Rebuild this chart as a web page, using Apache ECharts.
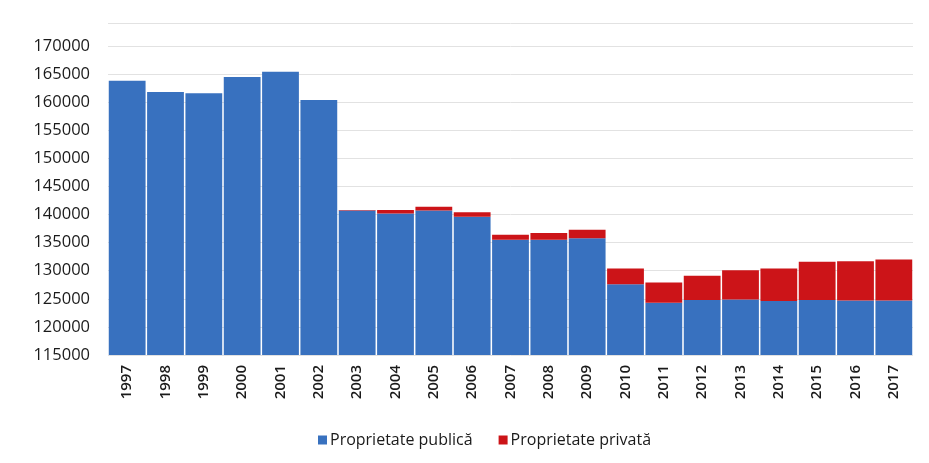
<!DOCTYPE html>
<html>
<head>
<meta charset="utf-8">
<script src="https://cdn.jsdelivr.net/npm/echarts@6/dist/echarts.min.js"></script>
<style>
html,body{margin:0;padding:0;background:#fff;}
#chart{width:929px;height:463px;}
</style>
</head>
<body>
<div id="chart"></div>
<script>
const categories = ['1997','1998','1999','2000','2001','2002','2003','2004','2005','2006','2007','2008','2009','2010','2011','2012','2013','2014','2015','2016','2017'];
const publica = [163800,161800,161600,164500,165400,160400,140700,140200,140700,139600,135500,135500,135800,127600,124300,124800,124900,124600,124800,124700,124700];
const privata = [0,0,0,0,0,0,100,600,700,800,900,1200,1500,2800,3600,4300,5200,5800,6800,7000,7300];
const seriesNames = ['Proprietate publică','Proprietate privată'];

const chart = echarts.init(document.getElementById('chart'));
const font = '"Open Sans", "Noto Sans", sans-serif';
chart.setOption({
  animation: false,
  backgroundColor: '#fff',
  grid: {left: 108, right: 16, top: 23.5, bottom: 108},
  legend: {
    data: seriesNames,
    left: 313, top: 427,
    itemWidth: 9, itemHeight: 9, itemGap: 26,
    icon: 'rect',
    textStyle: {fontFamily: font, fontSize: 16, color: '#1a1a1a', padding: [0,0,0,-2]}
  },
  xAxis: {
    type: 'category',
    data: categories,
    axisLine: {show: false},
    axisTick: {show: false},
    axisLabel: {rotate: 90, fontFamily: font, fontSize: 15, fontWeight: 600, color: '#1a1a1a', margin: 10}
  },
  yAxis: {
    type: 'value',
    min: 115000, max: 174000, interval: 5000,
    axisLine: {show: false},
    axisTick: {show: false},
    splitLine: {lineStyle: {color: '#e2e2e2', width: 1}},
    axisLabel: {fontFamily: font, fontSize: 16.5, color: '#1a1a1a', margin: 18, showMaxLabel: false,
      formatter: function (v) { return String(v); }}
  },
  series: [
    {name: seriesNames[0], type: 'bar', stack: 'a', data: publica, barCategoryGap: '4%',
     itemStyle: {color: '#3871bf'}},
    {name: seriesNames[1], type: 'bar', stack: 'a', data: privata, barCategoryGap: '4%',
     itemStyle: {color: '#cc1418'}}
  ]
});
</script>
</body>
</html>
